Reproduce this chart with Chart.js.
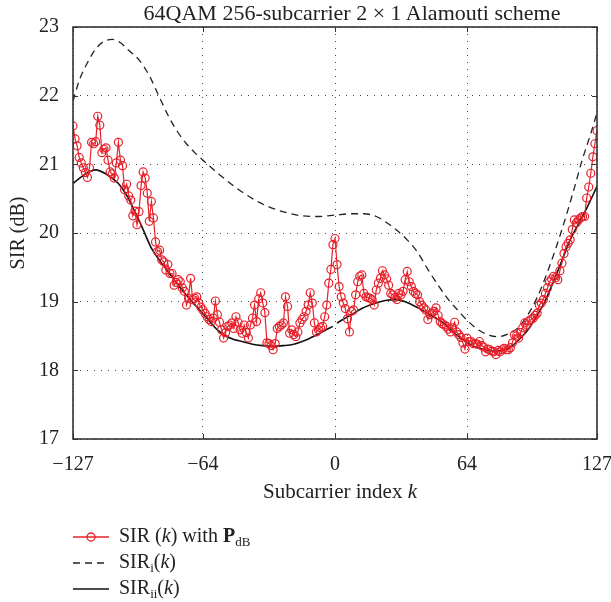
<!DOCTYPE html>
<html>
<head>
<meta charset="utf-8">
<script src="https://cdn.jsdelivr.net/npm/chart.js@4.4.1/dist/chart.umd.min.js"></script>
<style>
  body { margin: 0; background: #fff; font-family: "Liberation Serif", "DejaVu Serif", serif; color: #222; }
  #wrap { position: relative; width: 611px; height: 602px; }
  #chart { position: absolute; left: 0; top: 0; }
  .txt { position: absolute; white-space: nowrap; font-size: 20px; }
  #title { top: 0px; left: 352px; transform: translateX(-50%); font-size: 22px; }
  #xlabel { top: 479px; left: 340px; transform: translateX(-50%); font-size: 21px; }
  .leg { position: absolute; left: 73px; height: 24px; display: flex; align-items: center; font-size: 20px; }
  .leg svg { margin-right: 10px; }
  sub { font-size: 13px; vertical-align: -4px; }
</style>
</head>
<body>
<div id="wrap">
  <canvas id="chart" width="611" height="602"></canvas>
  <div id="title" class="txt">64QAM 256-subcarrier 2 × 1 Alamouti scheme</div>
  <div id="xlabel" class="txt">Subcarrier index <i>k</i></div>
  <div class="leg" style="top:525px"><svg width="36" height="12"><line x1="0" y1="6" x2="36" y2="6" stroke="#e8202a" stroke-width="1.3"/><circle cx="18" cy="6" r="4" fill="none" stroke="#e8202a" stroke-width="1.3"/></svg><span>SIR (<i>k</i>) with <b>P</b><sub>dB</sub></span></div>
  <div class="leg" style="top:551px"><svg width="36" height="12"><line x1="0" y1="6" x2="36" y2="6" stroke="#222" stroke-width="1.3" stroke-dasharray="7,5"/></svg><span>SIR<sub>i</sub>(<i>k</i>)</span></div>
  <div class="leg" style="top:577px"><svg width="36" height="12"><line x1="0" y1="6" x2="36" y2="6" stroke="#111" stroke-width="1.6"/></svg><span>SIR<sub>ii</sub>(<i>k</i>)</span></div>
</div>
<script>
// subcarrier index k = -127 ... 127
const subcarriers = Array.from({ length: 255 }, (v, i) => i - 127);

// SIR(k) with P_dB, one value per subcarrier
const sirP = [
  21.56, 21.37, 21.27, 21.10, 21.02, 20.95, 20.88, 20.81, 20.95, 21.32,
  21.30, 21.33, 21.70, 21.57, 21.17, 21.22, 21.24, 21.06, 20.89, 20.86,
  20.80, 21.02, 21.32, 21.06, 20.98, 20.63, 20.71, 20.54, 20.48, 20.25,
  20.32, 20.12, 20.31, 20.69, 20.89, 20.80, 20.58, 20.17, 20.46, 20.22,
  19.87, 19.73, 19.75, 19.61, 19.58, 19.46, 19.54, 19.41, 19.41, 19.24,
  19.28, 19.32, 19.29, 19.20, 19.15, 18.95, 19.05, 19.34, 19.03, 19.05,
  19.07, 18.98, 18.92, 18.88, 18.83, 18.78, 18.74, 18.71, 18.76, 19.01,
  18.81, 18.70, 18.59, 18.47, 18.55, 18.64, 18.66, 18.69, 18.61, 18.78,
  18.70, 18.59, 18.54, 18.66, 18.55, 18.47, 18.66, 18.76, 18.95, 18.71,
  19.04, 19.13, 18.98, 18.84, 18.40, 18.39, 18.36, 18.30, 18.39, 18.61,
  18.64, 18.66, 18.69, 19.07, 18.93, 18.54, 18.59, 18.52, 18.49, 18.56,
  18.69, 18.74, 18.78, 18.86, 18.95, 19.13, 18.98, 18.69, 18.56, 18.59,
  18.62, 18.64, 18.78, 18.95, 19.27, 19.47, 19.83, 19.92, 19.54, 19.22,
  19.07, 18.98, 18.90, 18.75, 18.56, 18.86, 18.88, 19.10, 19.29, 19.37,
  19.39, 19.12, 19.07, 19.06, 19.05, 19.03, 18.95, 19.17, 19.27, 19.34,
  19.45, 19.39, 19.33, 19.24, 19.12, 19.10, 19.06, 19.03, 19.12, 19.10,
  19.15, 19.32, 19.44, 19.29, 19.22, 19.15, 19.12, 19.10, 19.00, 18.95,
  18.91, 18.88, 18.74, 18.81, 18.83, 18.86, 18.91, 18.80, 18.71, 18.68,
  18.66, 18.64, 18.60, 18.56, 18.62, 18.70, 18.56, 18.52, 18.48, 18.40,
  18.31, 18.47, 18.42, 18.42, 18.39, 18.39, 18.38, 18.42, 18.36, 18.34,
  18.27, 18.31, 18.30, 18.28, 18.27, 18.23, 18.29, 18.27, 18.30, 18.32,
  18.30, 18.30, 18.33, 18.40, 18.52, 18.50, 18.47, 18.55, 18.62, 18.69,
  18.66, 18.72, 18.74, 18.76, 18.80, 18.83, 18.95, 18.98, 19.03, 19.12,
  19.20, 19.29, 19.33, 19.37, 19.35, 19.32, 19.45, 19.56, 19.70, 19.80,
  19.85, 19.90, 20.05, 20.19, 20.15, 20.19, 20.22, 20.24, 20.24, 20.51,
  20.67, 20.87, 21.11, 21.30, 21.49
];

// SIR_i(k), dashed curve
const kI   = [-127, -124, -120, -116, -112, -108, -104, -100, -95, -90, -85, -80, -76, -72, -68, -64, -56, -48, -40, -32, -24, -16, -8, 0, 8, 14, 20, 26, 30, 35, 40, 45, 50, 55, 60, 65, 70, 75, 79, 84, 88, 92, 96, 100, 105, 110, 115, 120, 124, 127];
const sirI = [21.92, 22.22, 22.48, 22.68, 22.79, 22.82, 22.77, 22.66, 22.52, 22.29, 21.97, 21.66, 21.46, 21.30, 21.17, 21.06, 20.85, 20.66, 20.50, 20.38, 20.30, 20.25, 20.24, 20.26, 20.28, 20.28, 20.24, 20.13, 20.04, 19.90, 19.72, 19.47, 19.24, 19.03, 18.86, 18.70, 18.58, 18.51, 18.49, 18.53, 18.60, 18.74, 18.94, 19.20, 19.60, 20.05, 20.55, 21.08, 21.45, 21.75];

// SIR_ii(k), solid curve (no value at k = 0)
const kIi   = [-127, -121, -116, -111, -105, -101, -97, -93, -89, -85, -81, -77, -73, -69, -65, -61, -57, -53, -49, -45, -40, -35, -30, -25, -20, -15, -10, -5, -1, 0, 1, 5, 9, 13, 17, 21, 25, 29, 33, 37, 41, 45, 50, 54, 58, 62, 66, 70, 74, 78, 82, 86, 90, 94, 98, 102, 106, 110, 114, 118, 122, 127];
const sirIi = [20.72, 20.86, 20.92, 20.86, 20.72, 20.55, 20.31, 20.05, 19.78, 19.60, 19.44, 19.28, 19.13, 18.99, 18.86, 18.72, 18.59, 18.50, 18.45, 18.42, 18.38, 18.36, 18.35, 18.36, 18.38, 18.43, 18.50, 18.58, 18.64, null, 18.69, 18.76, 18.83, 18.90, 18.95, 18.99, 19.02, 19.03, 19.01, 18.96, 18.90, 18.83, 18.74, 18.66, 18.54, 18.45, 18.37, 18.32, 18.29, 18.28, 18.30, 18.36, 18.47, 18.61, 18.80, 19.02, 19.30, 19.60, 19.90, 20.13, 20.36, 20.68];

const xTicks = [-127, -64, 0, 64, 127];
const yTicks = [17, 18, 19, 20, 21, 22, 23];

const serif = '"Liberation Serif", "DejaVu Serif", serif';

const framePlugin = {
  id: 'frame',
  afterDraw(chart) {
    const { ctx, chartArea: a, scales } = chart;
    ctx.save();
    ctx.strokeStyle = '#333';
    ctx.lineWidth = 1;
    ctx.beginPath();
    xTicks.forEach(v => {
      const px = Math.round(scales.x.getPixelForValue(v)) + 0.5;
      ctx.moveTo(px, a.bottom); ctx.lineTo(px, a.bottom - 5);
      ctx.moveTo(px, a.top); ctx.lineTo(px, a.top + 5);
    });
    yTicks.forEach(v => {
      const py = Math.round(scales.y.getPixelForValue(v)) + 0.5;
      ctx.moveTo(a.left, py); ctx.lineTo(a.left + 5, py);
      ctx.moveTo(a.right, py); ctx.lineTo(a.right - 5, py);
    });
    ctx.stroke();
    ctx.lineWidth = 1.6;
    ctx.strokeRect(a.left, a.top, a.right - a.left, a.bottom - a.top);
    ctx.restore();
  }
};

new Chart(document.getElementById('chart'), {
  type: 'line',
  data: {
    datasets: [
      {
        label: 'SIR (k) with P_dB',
        data: subcarriers.map((k, i) => ({ x: k, y: sirP[i] })),
        borderColor: '#e8202a',
        borderWidth: 1.2,
        pointStyle: 'circle',
        pointRadius: 4,
        pointBorderWidth: 1.2,
        pointBorderColor: '#e8202a',
        pointBackgroundColor: 'rgba(0,0,0,0)',
        tension: 0
      },
      {
        label: 'SIR_i(k)',
        data: kI.map((k, i) => ({ x: k, y: sirI[i] })),
        borderColor: '#222',
        borderWidth: 1.3,
        borderDash: [7, 5],
        pointRadius: 0,
        cubicInterpolationMode: 'monotone'
      },
      {
        label: 'SIR_ii(k)',
        data: kIi.map((k, i) => ({ x: k, y: sirIi[i] })),
        borderColor: '#111',
        borderWidth: 1.6,
        pointRadius: 0,
        spanGaps: false,
        cubicInterpolationMode: 'monotone'
      }
    ]
  },
  options: {
    responsive: false,
    animation: false,
    layout: { padding: { left: 0, right: 14, top: 27, bottom: 0 } },
    plugins: { legend: { display: false }, tooltip: { enabled: false } },
    scales: {
      x: {
        type: 'linear',
        min: -127,
        max: 127,
        afterBuildTicks: s => { s.ticks = xTicks.map(v => ({ value: v })); },
        afterFit: s => { s.height = 163; s.paddingLeft = 0; s.paddingRight = 0; },
        ticks: {
          padding: 14,
          color: '#222',
          font: { family: serif, size: 20 },
          callback: v => (v < 0 ? '\u2212' + Math.abs(v) : String(v))
        },
        grid: { color: '#444', lineWidth: 1, drawTicks: false },
        border: { display: false, dash: [1, 6] }
      },
      y: {
        min: 17,
        max: 23,
        afterBuildTicks: s => { s.ticks = yTicks.map(v => ({ value: v })); },
        afterFit: s => { s.width = 73; s.paddingTop = 0; s.paddingBottom = 0; },
        ticks: {
          padding: 14,
          color: '#222',
          font: { family: serif, size: 20 }
        },
        grid: { color: '#444', lineWidth: 1, drawTicks: false },
        border: { display: false, dash: [1, 6] },
        title: {
          display: true,
          text: 'SIR (dB)',
          color: '#222',
          font: { family: serif, size: 20 },
          padding: { top: 7, bottom: 0 }
        }
      }
    }
  },
  plugins: [framePlugin]
});
</script>
</body>
</html>
